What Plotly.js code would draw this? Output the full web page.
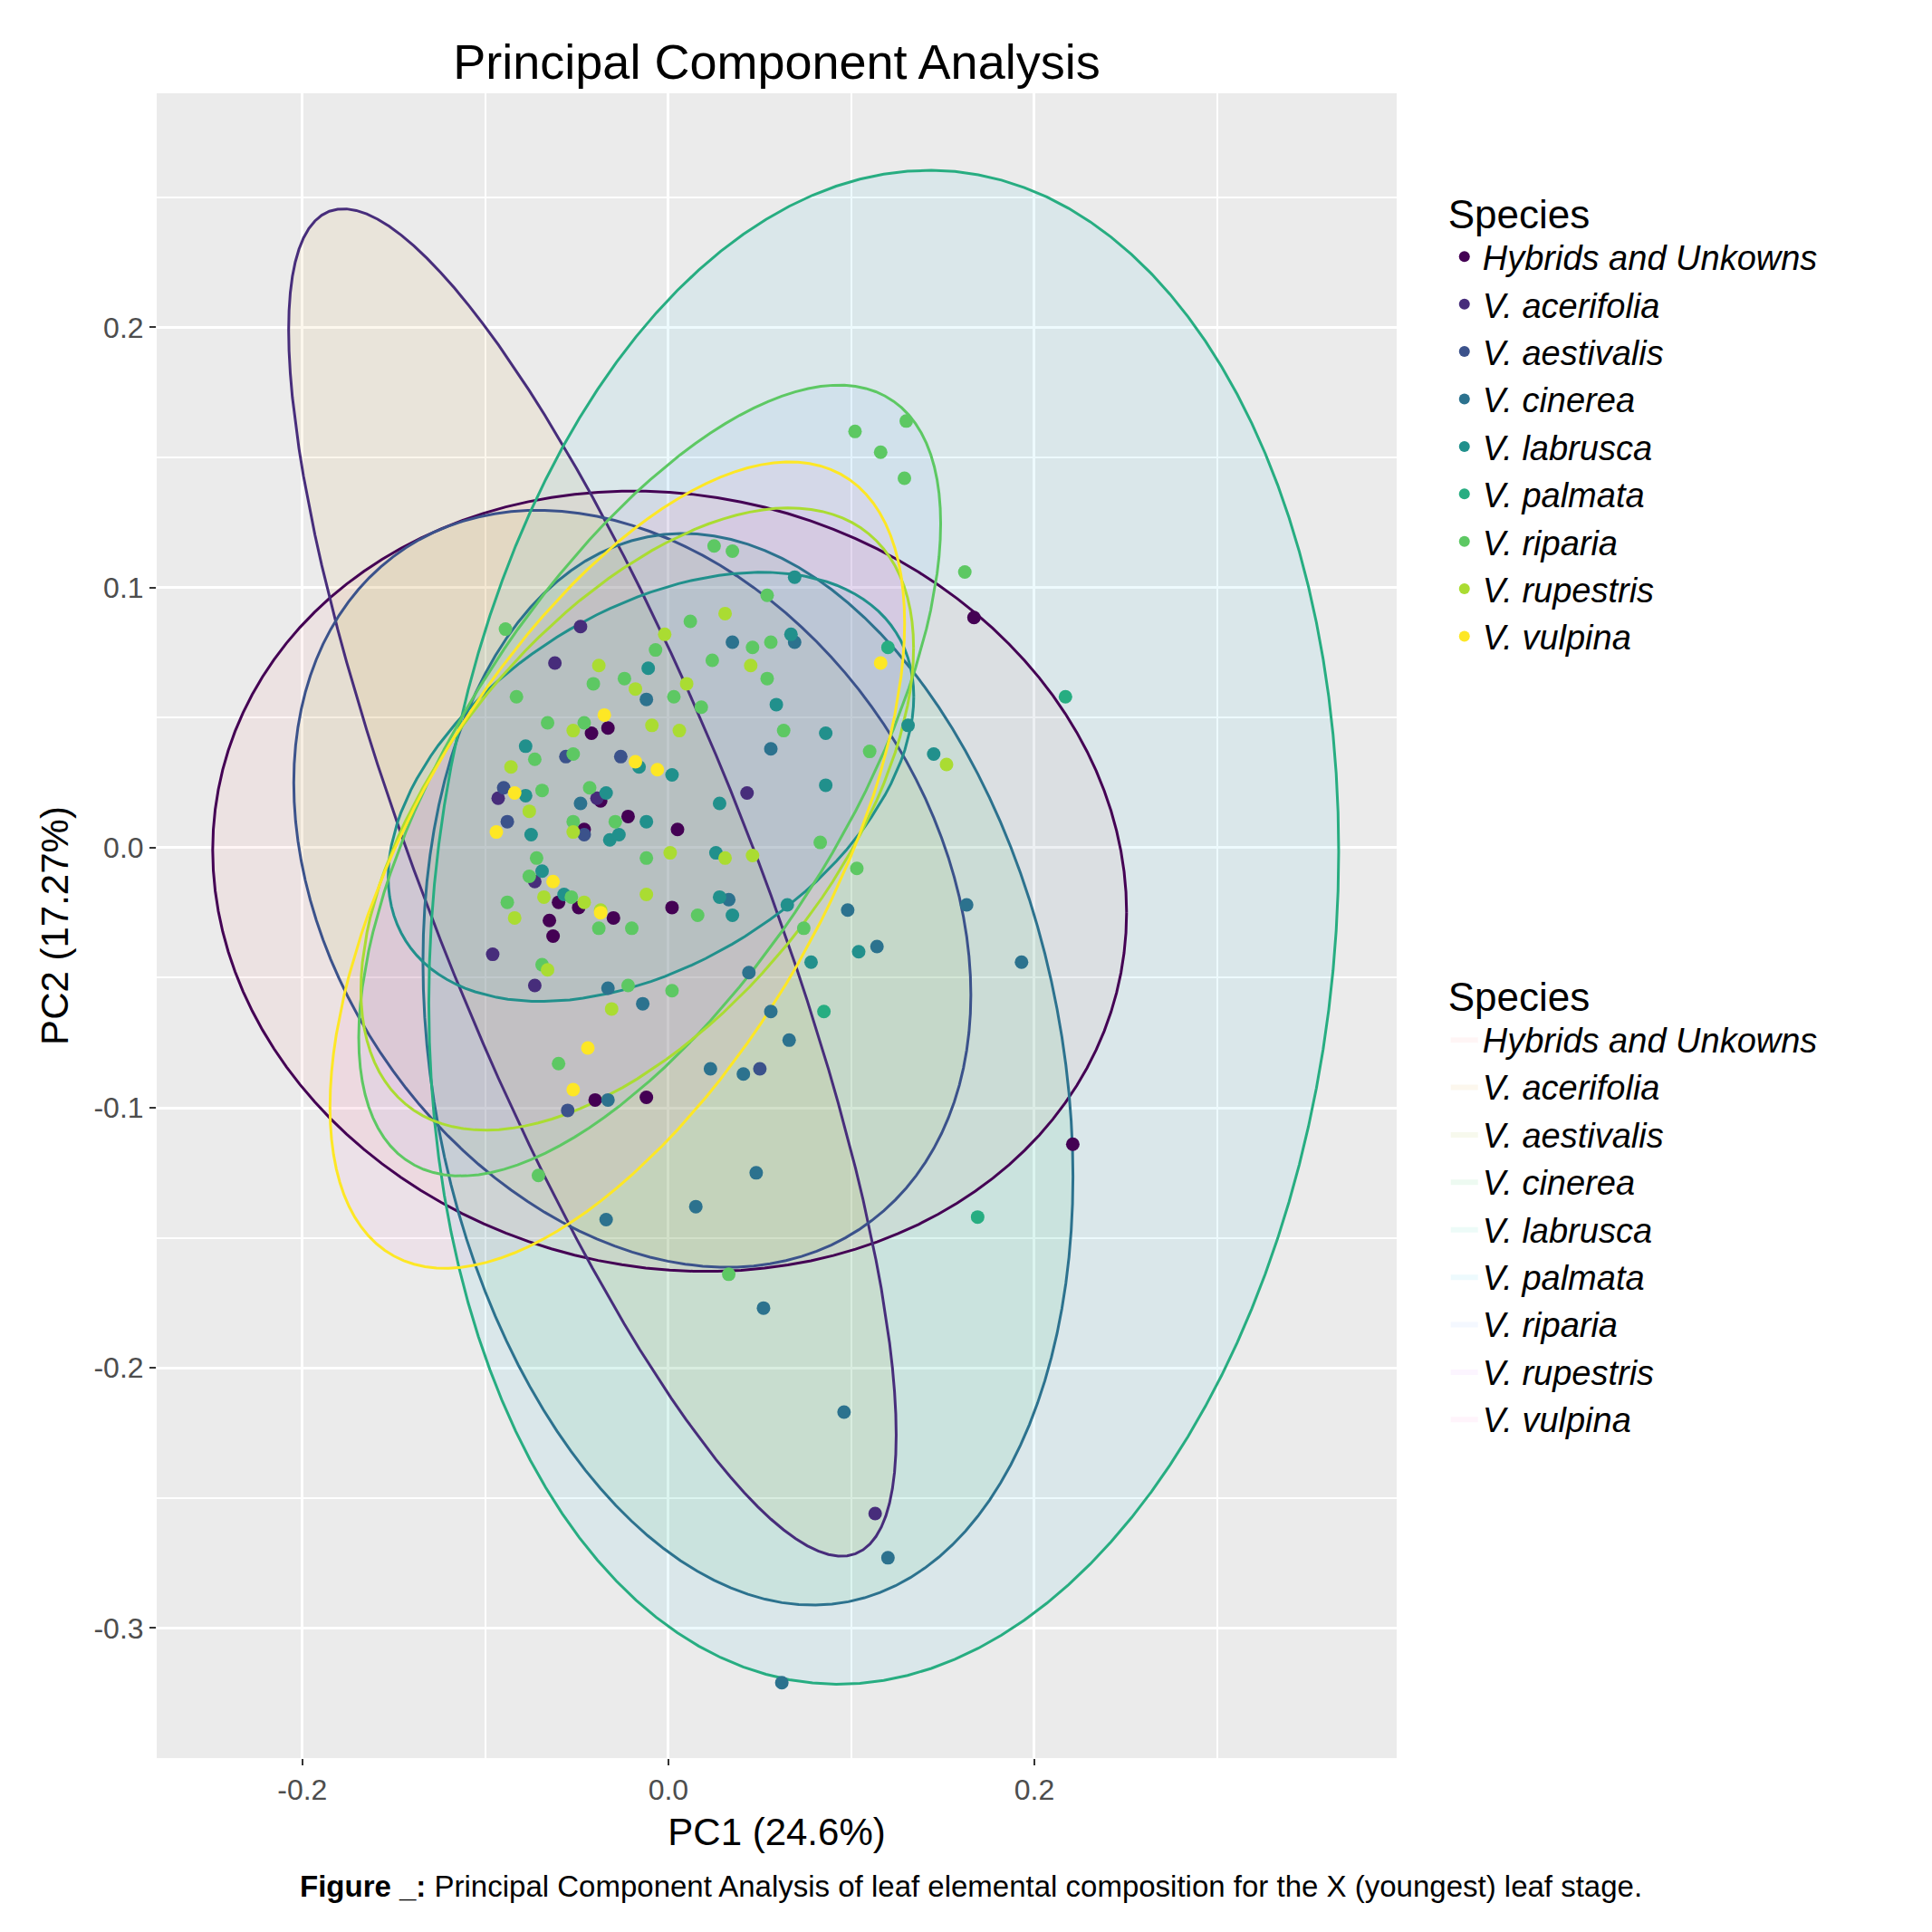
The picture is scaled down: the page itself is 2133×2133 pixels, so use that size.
<!DOCTYPE html>
<html>
<head>
<meta charset="utf-8">
<script src="https://cdn.plot.ly/plotly-3.0.1.min.js"></script>
<style>body{margin:0;background:#fff}</style>
</head>
<body>
<div id="myDiv" style="width:2133px;height:2133px"></div>
<script>
var species = ['Hybrids and Unkowns','V. acerifolia','V. aestivalis','V. cinerea','V. labrusca','V. palmata','V. riparia','V. rupestris','V. vulpina'];
var pointColors = ['#440154','#472D7B','#3B528B','#2C728E','#21908C','#27AD81','#5DC863','#AADC32','#FDE725'];
var fillColors = ['#F8766D','#D39200','#93AA00','#00BA38','#00C19F','#00B9E3','#619CFF','#DB72FB','#FF61C3'];
var xTickVals = [-0.2, 0, 0.2];
var xTickText = ['-0.2', '0.0', '0.2'];
var yTickVals = [-0.3, -0.2, -0.1, 0, 0.1, 0.2];
var yTickText = ['-0.3', '-0.2', '-0.1', '0.0', '0.1', '0.2'];

// PC scores, one pair of arrays per species
var pc1 = [
  [0.167,0.221,-0.042,-0.033,0.005,-0.037,-0.046,-0.063,-0.065,-0.049,-0.030,-0.022,0.002,-0.040,-0.012,-0.060],
  [-0.062,-0.048,-0.096,-0.073,0.113,0.043,-0.093,-0.073,-0.039],
  [-0.026,-0.055,-0.056,-0.046,0.050,-0.088,-0.090],
  [0.163,0.193,0.120,0.096,0.062,0.052,0.048,0.015,-0.034,0.041,0.023,0.066,0.056,0.044,0.114,0.098,0.033,-0.033,-0.033,-0.014,0.056,0.069,0.035,-0.012,-0.048],
  [0.069,0.067,0.086,0.059,0.086,0.028,0.028,0.145,0.131,0.104,0.078,-0.011,-0.034,-0.012,-0.032,-0.057,-0.078,-0.016,-0.027,0.035,0.065,-0.075,-0.078,0.026,-0.069,0.002],
  [0.217,0.169,0.120,0.085],
  [0.102,0.116,0.130,0.129,0.162,0.025,0.035,0.054,0.012,0.024,0.046,0.056,0.054,0.063,0.110,0.083,0.103,0.074,-0.071,0.033,-0.060,-0.089,0.018,-0.007,-0.024,-0.041,-0.046,-0.066,-0.073,-0.069,-0.072,-0.076,-0.088,-0.052,-0.043,-0.052,-0.029,-0.020,-0.038,-0.069,-0.053,-0.012,0.002,-0.022,0.016,0.003,-0.083],
  [0.152,0.031,0.010,-0.009,0.006,-0.002,-0.038,-0.076,-0.086,-0.068,-0.084,-0.066,-0.031,-0.012,0.001,0.031,0.046,0.045,-0.018,-0.052,-0.052,-0.046,-0.037],
  [-0.094,-0.084,-0.035,-0.018,-0.006,0.116,-0.044,-0.052,-0.037,-0.063]
];
var pc2 = [
  [0.0885,-0.114,0.044,0.046,0.007,0.018,0.007,-0.034,-0.028,-0.023,-0.027,0.012,-0.023,-0.097,-0.096,-0.021],
  [0.071,0.085,-0.041,-0.053,-0.256,0.021,0.019,-0.013,0.019],
  [0.035,-0.101,0.035,0.005,-0.085,0.010,0.023],
  [-0.022,-0.044,-0.273,-0.217,-0.321,-0.177,-0.125,-0.138,-0.143,-0.087,-0.085,-0.074,-0.063,-0.048,-0.038,-0.024,-0.020,-0.054,-0.097,-0.060,0.038,0.079,0.079,0.057,0.017],
  [0.104,0.082,0.044,0.055,0.024,0.017,-0.019,0.036,0.047,-0.040,-0.044,0.069,0.021,0.010,0.003,-0.018,0.039,0.031,0.005,-0.026,-0.022,0.005,0.020,-0.002,-0.009,0.028],
  [0.058,-0.142,0.077,-0.063],
  [0.160,0.152,0.164,0.142,0.106,0.116,0.114,0.097,0.087,0.072,0.077,0.079,0.065,0.045,0.037,0.002,-0.008,-0.031,-0.126,-0.164,-0.083,0.084,0.054,0.076,0.065,0.063,0.048,0.048,0.034,0.022,-0.004,-0.011,-0.021,0.036,0.023,0.010,0.010,-0.031,-0.031,-0.045,-0.019,-0.004,-0.055,-0.053,-0.026,0.058,0.058],
  [0.032,0.090,0.063,0.047,0.045,0.082,0.070,0.014,0.031,-0.019,-0.027,-0.047,-0.062,-0.018,-0.002,-0.004,-0.003,0.070,0.061,0.045,0.006,-0.021,-0.024],
  [0.006,0.021,0.051,0.033,0.030,0.071,-0.077,-0.093,-0.025,-0.013]
];

// confidence ellipses: centre, half-width, half-height, correlation
var ellCx = [0.0007,-0.0415,-0.0197,0.0435,-0.0095,0.1177,-0.0102,-0.017,-0.0279];
var ellCy = [-0.0129,-0.0134,-0.0158,-0.0852,0.0234,-0.0306,0.0258,0.011,-0.0067];
var ellW = [0.2497,0.166,0.185,0.1776,0.1436,0.2486,0.159,0.151,0.157];
var ellH = [0.150,0.259,0.1455,0.206,0.0825,0.291,0.152,0.1196,0.155];
var ellR = [-0.08,-0.82,-0.28,-0.2,0.42,0.1,0.65,0.55,0.6];

function ellipse(i) {
  var xs = [], ys = [], phi = Math.acos(ellR[i]);
  for (var k = 0; k <= 120; k++) {
    var t = 2 * Math.PI * k / 120;
    xs.push(ellCx[i] + ellW[i] * Math.cos(t));
    ys.push(ellCy[i] + ellH[i] * Math.cos(t - phi));
  }
  return {x: xs, y: ys};
}

var data = [];
species.forEach(function (s, i) {
  var e = ellipse(i);
  data.push({x: e.x, y: e.y, mode: 'lines', fill: 'toself', fillcolor: fillColors[i] + '12',
    line: {width: 0, color: fillColors[i] + '18'}, name: s, legend: 'legend2', hoverinfo: 'skip'});
});
species.forEach(function (s, i) {
  var e = ellipse(i);
  data.push({x: e.x, y: e.y, mode: 'lines', line: {width: 3, color: pointColors[i]},
    showlegend: false, hoverinfo: 'skip'});
});
species.forEach(function (s, i) {
  data.push({x: pc1[i], y: pc2[i], mode: 'markers', name: s, legend: 'legend',
    marker: {size: 15, color: pointColors[i]}});
});

var axisFont = {family: 'Liberation Sans, Arial, sans-serif', size: 32, color: '#4D4D4D'};
var legFont = {family: 'Liberation Sans, Arial, sans-serif', size: 38, color: '#000', style: 'italic'};

var layout = {
  width: 2133, height: 2133,
  margin: {l: 173, r: 591, t: 103, b: 192},
  paper_bgcolor: '#fff', plot_bgcolor: '#EBEBEB',
  font: {family: 'Liberation Sans, Arial, sans-serif'},
  title: {text: 'Principal Component Analysis', x: 0.5, xref: 'paper', xanchor: 'center', y: 0.977,
    font: {size: 54, color: '#000'}},
  xaxis: {range: [-0.2796, 0.398], tickvals: xTickVals, ticktext: xTickText, tickfont: axisFont,
    showgrid: true, gridcolor: '#fff', gridwidth: 3, zeroline: false,
    ticks: 'outside', ticklen: 7, tickwidth: 2, tickcolor: '#333',
    minor: {dtick: 0.1, tick0: 0, showgrid: true, gridcolor: '#fff', gridwidth: 1.5},
    title: {text: 'PC1 (24.6%)', font: {size: 42, color: '#000'}, standoff: 14}},
  yaxis: {range: [-0.350, 0.290], tickvals: yTickVals, ticktext: yTickText, tickfont: axisFont,
    showgrid: true, gridcolor: '#fff', gridwidth: 3, zeroline: false,
    ticks: 'outside', ticklen: 7, tickwidth: 2, tickcolor: '#333',
    minor: {dtick: 0.05, tick0: 0, showgrid: true, gridcolor: '#fff', gridwidth: 1.5},
    title: {text: 'PC2 (17.27%)', font: {size: 42, color: '#000'}, standoff: 14}},
  legend: {x: 1.04, y: 0.95, xanchor: 'left', yanchor: 'top', font: legFont,
    title: {text: 'Species', font: {size: 44, color: '#000', style: 'normal'}},
    itemsizing: 'constant', tracegroupgap: 0, bgcolor: 'rgba(0,0,0,0)'},
  legend2: {x: 1.04, y: 0.48, xanchor: 'left', yanchor: 'top', font: legFont,
    title: {text: 'Species', font: {size: 44, color: '#000', style: 'normal'}},
    tracegroupgap: 0, bgcolor: 'rgba(0,0,0,0)'},
  annotations: [{xref: 'paper', yref: 'paper', x: 0.657, y: -0.077, xanchor: 'center', yanchor: 'middle',
    showarrow: false, font: {size: 33, color: '#000'},
    text: '<b>Figure _:</b> Principal Component Analysis of leaf elemental composition for the X (youngest) leaf stage.'}]
};

Plotly.newPlot('myDiv', data, layout, {displayModeBar: false});
</script>
</body>
</html>
